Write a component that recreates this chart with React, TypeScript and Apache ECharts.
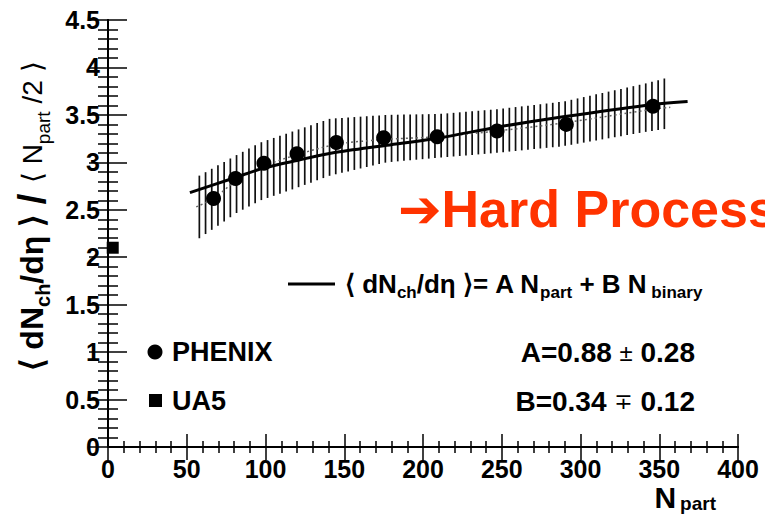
import React, { useEffect, useRef } from 'react';
import * as echarts from 'echarts';

// PHENIX data points (N_part, <dNch/deta>/<Npart/2>)
const phenixX = [67, 81, 99, 120, 145, 175, 209, 247, 291, 346];
const phenixY = [2.62, 2.83, 2.99, 3.09, 3.21, 3.26, 3.27, 3.33, 3.40, 3.59];
// UA5 point
const ua5X = [3];
const ua5Y = [2.1];
// Fit curve A Npart + B Nbinary
const fitX = [52, 79, 99, 120, 143, 177, 211, 247, 289, 341, 368];
const fitY = [2.68, 2.83, 2.94, 3.02, 3.10, 3.18, 3.26, 3.37, 3.48, 3.60, 3.64];
// Dotted curve
const dotX = [56, 67, 81, 99, 120, 145, 175, 209, 247, 291, 346, 357];
const dotY = [2.53, 2.62, 2.80, 2.96, 3.08, 3.19, 3.24, 3.27, 3.33, 3.42, 3.56, 3.58];
// Systematic error band (hatched)
const bandX = [58, 82, 97, 118, 141, 177, 211, 247, 289, 341, 357];
const bandLo = [2.20, 2.47, 2.60, 2.72, 2.86, 3.00, 3.05, 3.10, 3.17, 3.32, 3.36];
const bandHi = [2.86, 3.08, 3.21, 3.33, 3.46, 3.50, 3.51, 3.56, 3.64, 3.83, 3.90];

const FONT = '"Liberation Sans", Arial, Helvetica, sans-serif';
const HATCH_STEP = 6.2;

export default function App() {
  const ref = useRef<HTMLDivElement>(null);
  useEffect(() => {
    if (!ref.current) return;
    const chart = echarts.init(ref.current, undefined, { renderer: 'svg' });
    const axisLine = { show: true, lineStyle: { color: '#000', width: 2 } };
    const xBase = {
      type: 'value', min: 0, max: 400, interval: 50,
      splitLine: { show: false },
      axisLine,
      axisTick: { show: true, inside: true, length: 13, lineStyle: { color: '#000', width: 1.5 } },
      minorTick: { show: true, splitNumber: 5, length: 6, lineStyle: { color: '#000', width: 1.5 } },
    };
    const yBase = {
      type: 'value', min: 0, max: 4.5, interval: 0.5,
      splitLine: { show: false },
      axisLine,
      axisTick: { show: true, inside: true, length: 19, lineStyle: { color: '#000', width: 1.5 } },
      minorTick: { show: true, splitNumber: 5, length: 10, lineStyle: { color: '#000', width: 1.5 } },
    };
    const labelStyle = { fontFamily: FONT, fontWeight: 'bold', fontSize: 25, color: '#000' };

    const option: any = {
      animation: false,
      backgroundColor: '#fff',
      grid: { left: 108, right: 27, top: 20, bottom: 68 },
      xAxis: [
        { ...xBase, position: 'bottom', axisLabel: { ...labelStyle, margin: 9 } },
        { ...xBase, position: 'top', axisLabel: { show: false } },
      ],
      yAxis: [
        { ...yBase, position: 'left', axisLabel: { ...labelStyle, margin: 8 } },
        { ...yBase, position: 'right', axisLabel: { show: false } },
      ],
      series: [
        {
          type: 'custom',
          name: 'band',
          clip: false,
          z: 1,
          data: bandX.map((x, i) => [x, bandLo[i], bandHi[i]]),
          encode: { x: 0, y: [1, 2] },
          renderItem: (params: any, api: any) => {
            const i = params.dataIndex;
            if (i >= bandX.length - 1) return null;
            const a0 = api.coord([bandX[i], bandLo[i]]);
            const a1 = api.coord([bandX[i], bandHi[i]]);
            const b0 = api.coord([bandX[i + 1], bandLo[i + 1]]);
            const b1 = api.coord([bandX[i + 1], bandHi[i + 1]]);
            const start = api.coord([bandX[0], 0])[0];
            const last = i === bandX.length - 2;
            const children: any[] = [];
            let k = Math.ceil((a0[0] - start) / HATCH_STEP - 1e-6);
            for (; k < 1000; k++) {
              const px = start + k * HATCH_STEP;
              if (!last && px >= b0[0] - 1e-6) break;
              if (px > b0[0] + 1e-6) break;
              const t = (px - a0[0]) / (b0[0] - a0[0]);
              const ylo = a0[1] + t * (b0[1] - a0[1]);
              const yhi = a1[1] + t * (b1[1] - a1[1]);
              children.push({
                type: 'line',
                shape: { x1: px, y1: ylo, x2: px, y2: yhi },
                style: { stroke: '#111', lineWidth: 1.7 },
              });
            }
            return { type: 'group', children };
          },
        },
        {
          type: 'line', name: 'dotted', z: 2,
          data: dotX.map((x, i) => [x, dotY[i]]),
          showSymbol: false, smooth: 0.3,
          lineStyle: { color: '#666', width: 1.5, type: [2, 3] },
        },
        {
          type: 'line', name: 'fit', z: 3,
          data: fitX.map((x, i) => [x, fitY[i]]),
          showSymbol: false, smooth: 0.3,
          lineStyle: { color: '#000', width: 3 },
        },
        {
          type: 'scatter', name: 'PHENIX', z: 4,
          data: phenixX.map((x, i) => [x, phenixY[i]]),
          symbol: 'circle', symbolSize: 15,
          itemStyle: { color: '#000', opacity: 1 },
        },
        {
          type: 'scatter', name: 'UA5', z: 4, clip: false,
          data: ua5X.map((x, i) => [x, ua5Y[i]]),
          symbol: 'rect', symbolSize: 12,
          itemStyle: { color: '#000', opacity: 1 },
        },
      ],
      graphic: [
        // Y axis title
        {
          type: 'text', x: 32, y: 216, rotation: Math.PI / 2, z: 10,
          style: {
            text: '{b|⟨ dN}{bs|ch}{b|/dη ⟩}{sl| / }{r|⟨ N}{rs|part}{r| /2 ⟩}',
            align: 'center', verticalAlign: 'middle',
            rich: {
              b: { fontFamily: FONT, fontWeight: 'bold', fontSize: 32, lineHeight: 42, fill: '#000' },
              bs: { fontFamily: FONT, fontWeight: 'bold', fontSize: 20, lineHeight: 18, verticalAlign: 'bottom', fill: '#000' },
              sl: { fontFamily: FONT, fontWeight: 'bold', fontSize: 38, lineHeight: 42, fill: '#000' },
              r: { fontFamily: FONT, fontSize: 28, lineHeight: 42, fill: '#000' },
              rs: { fontFamily: FONT, fontSize: 19, lineHeight: 18, verticalAlign: 'bottom', fill: '#000' },
            },
          },
        },
        // X axis title
        {
          type: 'text', x: 716, y: 497, z: 10,
          style: {
            text: '{n|N}{s|part}', align: 'right', verticalAlign: 'middle',
            rich: {
              n: { fontFamily: FONT, fontWeight: 'bold', fontSize: 30, lineHeight: 32, fill: '#000' },
              s: { fontFamily: FONT, fontWeight: 'bold', fontSize: 19, lineHeight: 16, verticalAlign: 'bottom', fill: '#000', padding: [0, 0, 0, 4] },
            },
          },
        },
        // Hard Process annotation
        {
          type: 'text', x: 398, y: 209, z: 10,
          style: {
            text: '{a|➔}{h|Hard Process}', align: 'left', verticalAlign: 'middle',
            rich: {
              a: { fontFamily: '"DejaVu Sans", sans-serif', fontWeight: 'bold', fontSize: 52, fill: '#ff3300', lineHeight: 56 },
              h: { fontFamily: FONT, fontWeight: 'bold', fontSize: 52, fill: '#ff3300', lineHeight: 56 },
            },
          },
        },
        // Formula legend line
        { type: 'line', z: 10, shape: { x1: 288, y1: 284, x2: 335, y2: 284 }, style: { stroke: '#000', lineWidth: 3 } },
        {
          type: 'text', x: 345, y: 284, z: 10,
          style: {
            text: '{m|⟨ dN}{s|ch}{m|/dη ⟩= A N}{s|part}{m| + B N}{s| binary}',
            align: 'left', verticalAlign: 'middle',
            rich: {
              m: { fontFamily: FONT, fontWeight: 'bold', fontSize: 26, lineHeight: 34, fill: '#000' },
              s: { fontFamily: FONT, fontWeight: 'bold', fontSize: 17, lineHeight: 16, verticalAlign: 'bottom', fill: '#000' },
            },
          },
        },
        // Legend markers
        { type: 'circle', z: 10, shape: { cx: 155, cy: 352, r: 7.5 }, style: { fill: '#000' } },
        { type: 'rect', z: 10, shape: { x: 149, y: 394, width: 13, height: 13 }, style: { fill: '#000' } },
        {
          type: 'text', x: 172, y: 352, z: 10,
          style: { text: 'PHENIX', fontFamily: FONT, fontWeight: 'bold', fontSize: 27, fill: '#000', align: 'left', verticalAlign: 'middle' },
        },
        {
          type: 'text', x: 172, y: 401, z: 10,
          style: { text: 'UA5', fontFamily: FONT, fontWeight: 'bold', fontSize: 27, fill: '#000', align: 'left', verticalAlign: 'middle' },
        },
        {
          type: 'text', x: 695, y: 352, z: 10,
          style: {
            text: '{b|A=0.88 }{r|±}{b| 0.28}', align: 'right', verticalAlign: 'middle',
            rich: {
              b: { fontFamily: FONT, fontWeight: 'bold', fontSize: 28, fill: '#000' },
              r: { fontFamily: FONT, fontSize: 24, fill: '#000' },
            },
          },
        },
        {
          type: 'text', x: 695, y: 401, z: 10,
          style: {
            text: '{b|B=0.34 }{r|∓}{b| 0.12}', align: 'right', verticalAlign: 'middle',
            rich: {
              b: { fontFamily: FONT, fontWeight: 'bold', fontSize: 28, fill: '#000' },
              r: { fontFamily: '"DejaVu Sans", sans-serif', fontSize: 22, fill: '#000' },
            },
          },
        },
      ],
    };
    chart.setOption(option);
    return () => chart.dispose();
  }, []);
  return (
    <div
      ref={ref}
      style={{ position: 'fixed', left: 0, top: 0, width: 765, height: 515, background: '#fff' }}
    />
  );
}
